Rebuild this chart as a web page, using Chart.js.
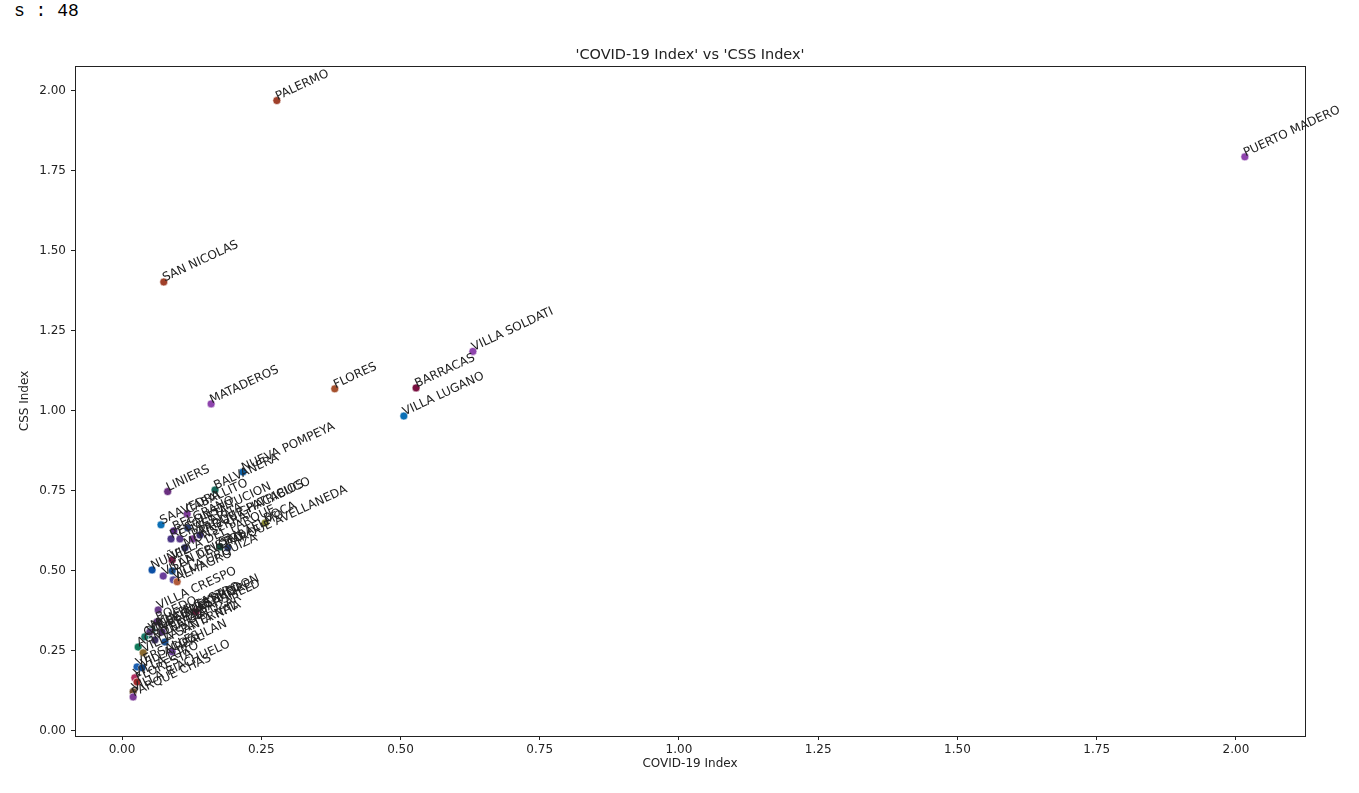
<!DOCTYPE html>
<html>
<head>
<meta charset="utf-8">
<script src="https://cdn.jsdelivr.net/npm/chart.js@4.4.0/dist/chart.umd.min.js"></script>
<style>
    body { margin: 0; background: #fff; }
    #wrap { position: relative; width: 1359px; height: 793px; }
    #out { position: absolute; left: 14px; top: 0px; font: 18px "Liberation Mono", "DejaVu Sans Mono", monospace; line-height: 22px; color: #000; margin: 0; }
    canvas { position: absolute; left: 0; top: 0; }
</style>
</head>
<body>
<div id="wrap">
    <pre id="out">s : 48</pre>
    <canvas id="chart" width="1359" height="793"></canvas>
</div>
<script>
// barrios
const barrios = [
    'PALERMO', 'PUERTO MADERO', 'SAN NICOLAS', 'VILLA SOLDATI', 'BARRACAS', 'VILLA LUGANO',
    'FLORES', 'MATADEROS', 'NUEVA POMPEYA', 'BALVANERA', 'LINIERS',
    'CABALLITO', 'SAAVEDRA', 'NUÑEZ', 'BELGRANO', 'RECOLETA', 'CHACARITA',
    'PARQUE CHACABUCO', 'PARQUE PATRICIOS', 'CONSTITUCION', 'PARQUE AVELLANEDA', 'SAN TELMO',
    'VILLA DEL PARQUE', 'SAN CRISTOBAL', 'VILLA DEVOTO', 'VILLA URQUIZA', 'ALMAGRO', 'MONSERRAT',
    'VILLA CRESPO', 'BOEDO', 'RETIRO', 'VILLA GRAL. MITRE', 'COLEGIALES', 'LA PATERNAL',
    'VILLA ORTUZAR', 'AGRONOMIA', 'VILLA SANTA RITA', 'COGHLAN', 'VERSALLES', 'VILLA REAL',
    'VILLA LURO', 'FLORESTA', 'VILLA RIACHUELO', 'PARQUE CHAS', 'MONTE CASTRO', 'VELEZ SARSFIELD',
    'VILLA PUEYRREDON', 'BOCA'
];

const covidIndex = [
    0.278, 2.016, 0.075, 0.630, 0.528, 0.506,
    0.382, 0.160, 0.217, 0.167, 0.082,
    0.117, 0.070, 0.054, 0.093, 0.088, 0.104,
    0.127, 0.140, 0.118, 0.190, 0.176,
    0.090, 0.090, 0.074, 0.092, 0.099, 0.113,
    0.065, 0.063, 0.133, 0.047, 0.041, 0.077,
    0.059, 0.029, 0.038, 0.090, 0.027, 0.036,
    0.023, 0.027, 0.020, 0.020, 0.054, 0.072,
    0.050, 0.257
];

const cssIndex = [
    1.970, 1.794, 1.403, 1.186, 1.072, 0.984,
    1.069, 1.022, 0.809, 0.753, 0.748,
    0.678, 0.644, 0.503, 0.625, 0.600, 0.600,
    0.600, 0.612, 0.634, 0.572, 0.575,
    0.534, 0.500, 0.484, 0.472, 0.466, 0.572,
    0.378, 0.341, 0.372, 0.300, 0.294, 0.278,
    0.284, 0.262, 0.244, 0.247, 0.200, 0.197,
    0.166, 0.153, 0.122, 0.106, 0.316, 0.309,
    0.309, 0.650
];

const xTicks = [0, 0.25, 0.5, 0.75, 1.0, 1.25, 1.5, 1.75, 2.0];
const yTicks = [0, 0.25, 0.5, 0.75, 1.0, 1.25, 1.5, 1.75, 2.0];

// one colour per point
const pointColors = [
    '#a0402a', '#8e44ad', '#a0402a', '#8e44ad', '#7a1040', '#0b6fb5',
    '#a5502d', '#8e44ad', '#0b5fa5', '#16695a', '#6a2f80',
    '#7d3c98', '#0b6fb5', '#0b4fa5', '#5b2c8a', '#4a3585', '#5b3a8a',
    '#7d3c98', '#3a2f70', '#2c3e70', '#2a3a6a', '#14503f',
    '#7a1a4a', '#1a4f90', '#6a3d9a', '#5a4fa0', '#b05a3a', '#2a2a60',
    '#6a3d8a', '#6a3d8a', '#6a1a3a', '#16695a', '#1a7a6a', '#1a4f90',
    '#3a2f60', '#117a5a', '#8a6a30', '#6a3d9a', '#1a5fb0', '#0b3f80',
    '#b03060', '#a02a2a', '#6a4a2a', '#7d3c98', '#2a6a6a', '#4a2a6a',
    '#5a3a7a', '#8a8a30'
];

const TITLE = "'COVID-19 Index' vs 'CSS Index'";
const FONT = 'DejaVu Sans';
const INK = '#222';

const points = barrios.map((name, i) => ({ x: covidIndex[i], y: cssIndex[i] }));

// names next to each dot, tilted like the original annotate() calls
const pointLabels = {
    id: 'pointLabels',
    afterDatasetsDraw(chart) {
        const ctx = chart.ctx;
        const meta = chart.getDatasetMeta(0);
        ctx.save();
        ctx.font = `12px "${FONT}"`;
        ctx.fillStyle = INK;
        ctx.textAlign = 'left';
        ctx.textBaseline = 'alphabetic';
        meta.data.forEach((el, i) => {
            ctx.save();
            ctx.translate(el.x, el.y);
            ctx.rotate(-25 * Math.PI / 180);
            ctx.fillText(barrios[i], 1, 0);
            ctx.restore();
        });
        ctx.restore();
    }
};

// box around the plot area + title centred over it
const frame = {
    id: 'frame',
    afterDraw(chart) {
        const { ctx, chartArea: a } = chart;
        ctx.save();
        ctx.strokeStyle = INK;
        ctx.lineWidth = 1;
        ctx.strokeRect(Math.round(a.left) + 0.5, Math.round(a.top) + 0.5,
            Math.round(a.right - a.left), Math.round(a.bottom - a.top));
        ctx.fillStyle = INK;
        ctx.font = `14.5px "${FONT}"`;
        ctx.textAlign = 'center';
        ctx.textBaseline = 'middle';
        ctx.fillText(TITLE, (a.left + a.right) / 2, 55);
        ctx.restore();
    }
};

const axisCommon = {
    type: 'linear',
    grid: { display: true, drawOnChartArea: false, drawTicks: true, tickLength: 4, color: INK },
    border: { display: true, color: INK },
    title: { display: true, color: INK, font: { family: FONT, size: 12 } }
};

new Chart(document.getElementById('chart'), {
    type: 'scatter',
    data: {
        datasets: [{
            data: points,
            backgroundColor: pointColors,
            borderColor: '#fff',
            borderWidth: 0.6,
            pointRadius: 4,
            pointHoverRadius: 4
        }]
    },
    options: {
        responsive: false,
        animation: false,
        devicePixelRatio: 1,
        layout: { padding: { left: 0, right: 54, top: 66, bottom: 0 } },
        plugins: {
            legend: { display: false },
            tooltip: { enabled: false },
            title: { display: false }
        },
        scales: {
            x: {
                ...axisCommon,
                min: -0.0844,
                max: 2.124,
                afterFit(scale) { scale.height = 57; },
                afterBuildTicks(scale) { scale.ticks = xTicks.map(v => ({ value: v })); },
                ticks: { color: INK, font: { family: FONT, size: 12 }, padding: 3, callback: v => v.toFixed(2) },
                title: { ...axisCommon.title, text: 'COVID-19 Index', padding: { top: 0, bottom: 21.8 } }
            },
            y: {
                ...axisCommon,
                min: -0.016,
                max: 2.078,
                afterFit(scale) { scale.width = 75; },
                afterBuildTicks(scale) { scale.ticks = yTicks.map(v => ({ value: v })); },
                ticks: { color: INK, font: { family: FONT, size: 12 }, padding: 5, callback: v => v.toFixed(2) },
                title: { ...axisCommon.title, text: 'CSS Index', padding: { top: 17.8, bottom: 0 } }
            }
        }
    },
    plugins: [pointLabels, frame]
});
</script>
</body>
</html>
